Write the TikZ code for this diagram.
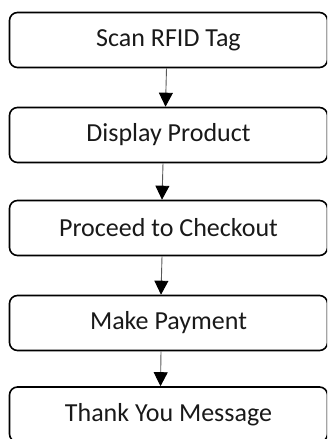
\documentclass[tikz,border=0pt]{standalone}
\usepackage{fontspec}
\setmainfont{Carlito}
\usetikzlibrary{arrows.meta}
\begin{document}
\begin{tikzpicture}[x=1pt,y=-1pt,
  stepbox/.style={draw=black, line width=1.6pt, rounded corners=8pt,
    minimum width=318pt, minimum height=55pt, inner sep=0pt,
    font=\fontsize{26}{30}\selectfont, text=black!90},
  flow/.style={draw=black!65, line width=0.9pt,
    -{Triangle[width=14pt,length=14pt,color=black,fill=black]}}]
\useasboundingbox (0,0) rectangle (327,439);
\clip (0,0) rectangle (327,439);
\node[stepbox] (s1) at (168.5,40) {Scan RFID Tag};
\node[stepbox] (s2) at (168.5,135) {Display Product};
\node[stepbox] (s3) at (168.5,228) {Proceed to Checkout};
\node[stepbox] (s4) at (168.5,323) {Make Payment};
\node[stepbox] (s5) at (168.5,414.5) {Thank You Message};
\draw[flow] ([xshift=-2pt]s1.south) -- ([xshift=-3pt]s2.north);
\draw[flow] ([xshift=-5.5pt]s2.south) -- ([xshift=-6.5pt]s3.north);
\draw[flow] ([xshift=-6.5pt]s3.south) -- ([xshift=-7.5pt]s4.north);
\draw[flow] ([xshift=-7.5pt]s4.south) -- ([xshift=-8pt]s5.north);
\end{tikzpicture}
\end{document}
